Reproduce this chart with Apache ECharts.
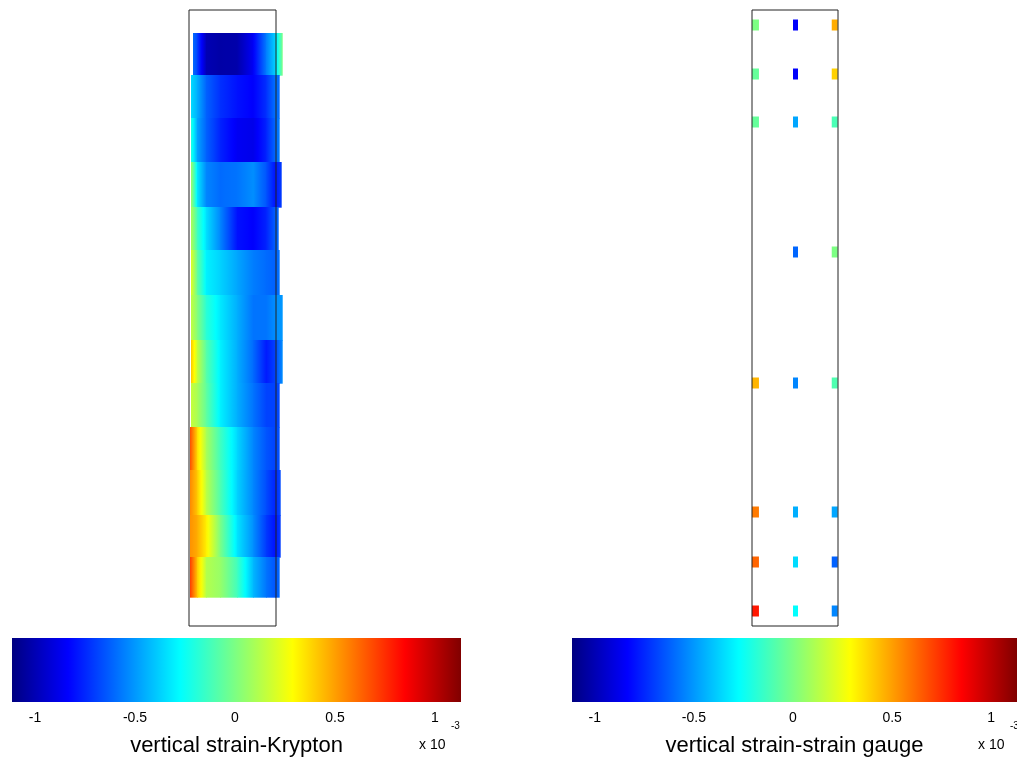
<!DOCTYPE html>
<html>
<head>
<meta charset="utf-8">
<script src="https://cdn.jsdelivr.net/npm/echarts@6/dist/echarts.min.js"></script>
<style>
  html, body { margin: 0; padding: 0; background: #fff; }
  #chart { width: 1017px; height: 762px; }
</style>
</head>
<body>
<div id="chart"></div>
<script>
// colour range of both colour bars (strain x 10^-3)
var strainMin = -1.115;
var strainMax = 1.13;
var barTicks = [-1, -0.5, 0, 0.5, 1];

// Krypton field, 13 horizontal bands (frame units: x 0..87, y 0..616 from top)
var bandTop = [23, 65, 108, 152, 197, 240, 285, 330, 373, 417, 460, 505, 547];
var bandBottom = [65, 108, 152, 197, 240, 285, 330, 373, 417, 460, 505, 547, 587];
var bandLeft = [4, 2, 2, 2, 2, 2, 2, 2, 2, 1, 1, 1, 1];
var bandRight = [93, 90, 90, 92, 89, 90, 93, 93, 90, 90, 91, 91, 90];
var innerNodes = [8, 17, 31, 48, 64, 77, 86];
// strain at bandLeft, innerNodes..., bandRight
var kryptonStrain = [
  [-0.60, -0.69, -1.00, -1.03, -1.02, -0.85, -0.56, -0.37, 0.00],
  [-0.35, -0.45, -0.62, -0.73, -0.80, -0.84, -0.73, -0.58, -0.60],
  [-0.20, -0.47, -0.62, -0.76, -0.86, -0.88, -0.76, -0.60, -0.56],
  [0.07, -0.32, -0.54, -0.60, -0.58, -0.52, -0.65, -0.80, -0.70],
  [0.11, -0.13, -0.34, -0.54, -0.80, -0.84, -0.76, -0.62, -0.60],
  [0.22, -0.05, -0.30, -0.37, -0.47, -0.56, -0.60, -0.62, -0.58],
  [0.15, 0.02, -0.18, -0.32, -0.45, -0.58, -0.58, -0.52, -0.50],
  [0.41, 0.16, -0.08, -0.30, -0.45, -0.60, -0.78, -0.69, -0.52],
  [0.16, 0.10, -0.06, -0.30, -0.45, -0.58, -0.69, -0.69, -0.67],
  [0.68, 0.37, 0.10, -0.13, -0.36, -0.54, -0.65, -0.69, -0.65],
  [0.55, 0.41, 0.14, -0.10, -0.37, -0.54, -0.67, -0.76, -0.67],
  [0.53, 0.47, 0.32, 0.00, -0.33, -0.52, -0.71, -0.80, -0.70],
  [0.72, 0.41, 0.12, 0.06, -0.13, -0.43, -0.58, -0.65, -0.60]
];

// strain gauges (frame units: x 0..1, y 0..616 from top)
var gaugeDepth = [15, 64, 112, 242, 373, 502, 552, 601];
var gaugeCols = [0.04, 0.506, 0.962];
var gaugeWidth = [7, 5, 6];
var gaugeLeft = [0.00, -0.05, -0.05, null, 0.45, 0.58, 0.63, 0.80];
var gaugeMid = [-0.84, -0.84, -0.47, -0.61, -0.54, -0.45, -0.35, -0.27];
var gaugeRight = [0.47, 0.39, -0.11, 0.00, -0.10, -0.47, -0.62, -0.54];

var font = 'Liberation Sans, Arial, Helvetica, sans-serif';

function clamp01(a) {
  return Math.max(0, Math.min(1, a));
}

// matlab jet colormap
function jet(v) {
  var f = clamp01((v - strainMin) / (strainMax - strainMin));
  var r = clamp01(Math.min(4 * f - 1.5, -4 * f + 4.5));
  var g = clamp01(Math.min(4 * f - 0.5, -4 * f + 3.5));
  var b = clamp01(Math.min(4 * f + 0.5, -4 * f + 2.5));
  return 'rgb(' + Math.round(r * 255) + ',' + Math.round(g * 255) + ',' + Math.round(b * 255) + ')';
}

var bandCells = [];
kryptonStrain.forEach(function (row, i) {
  var xs = [bandLeft[i]].concat(innerNodes, [bandRight[i]]);
  for (var j = 0; j < xs.length - 1; j++) {
    bandCells.push([xs[j], xs[j + 1], bandTop[i], bandBottom[i], row[j], row[j + 1]]);
  }
});

function gaugeData(vals, col) {
  var out = [];
  vals.forEach(function (v, i) {
    if (v !== null) out.push([gaugeCols[col], gaugeDepth[i], v]);
  });
  return out;
}

function renderBand(params, api) {
  var p0 = api.coord([api.value(0), api.value(2)]);
  var p1 = api.coord([api.value(1), api.value(3)]);
  var v0 = api.value(4), v1 = api.value(5);
  var stops = [];
  for (var k = 0; k <= 6; k++) {
    stops.push({ offset: k / 6, color: jet(v0 + (v1 - v0) * k / 6) });
  }
  return {
    type: 'rect',
    shape: { x: p0[0], y: p0[1], width: p1[0] - p0[0] + 0.7, height: p1[1] - p0[1] + 0.7 },
    style: { fill: new echarts.graphic.LinearGradient(0, 0, 1, 0, stops) }
  };
}

function renderBar(params, api) {
  var p0 = api.coord([api.value(0), 1]);
  var p1 = api.coord([api.value(1), 0]);
  var stops = [0, 1 / 8, 3 / 8, 5 / 8, 7 / 8, 1].map(function (f) {
    return { offset: f, color: jet(strainMin + f * (strainMax - strainMin)) };
  });
  return {
    type: 'rect',
    shape: { x: p0[0], y: p0[1], width: p1[0] - p0[0], height: p1[1] - p0[1] },
    style: { fill: new echarts.graphic.LinearGradient(0, 0, 1, 0, stops) }
  };
}

function barAxis(idx, name) {
  return {
    type: 'value', gridIndex: idx, min: strainMin, max: strainMax,
    axisLine: { show: false }, axisTick: { show: false }, splitLine: { show: false },
    axisLabel: { customValues: barTicks, fontSize: 14, color: '#000', fontFamily: font, margin: 9 },
    name: name, nameLocation: 'middle', nameGap: 33,
    nameTextStyle: { fontSize: 22, color: '#000', fontFamily: font }
  };
}

var chart = echarts.init(document.getElementById('chart'));

chart.setOption({
  animation: false,
  backgroundColor: '#fff',
  grid: [
    { left: 189, top: 10, width: 87, height: 616, show: true, borderColor: '#222', borderWidth: 1, backgroundColor: 'transparent', z: 5 },
    { left: 752, top: 10, width: 86, height: 616, show: true, borderColor: '#222', borderWidth: 1, backgroundColor: 'transparent', z: 5 },
    { left: 12, top: 638, width: 449, height: 64 },
    { left: 572, top: 638, width: 449, height: 64 }
  ],
  xAxis: [
    { type: 'value', gridIndex: 0, min: 0, max: 87, show: false },
    { type: 'value', gridIndex: 1, min: 0, max: 1, show: false },
    barAxis(2, 'vertical strain-Krypton'),
    barAxis(3, 'vertical strain-strain gauge')
  ],
  yAxis: [
    { type: 'value', gridIndex: 0, min: 0, max: 616, inverse: true, show: false },
    { type: 'value', gridIndex: 1, min: 0, max: 616, inverse: true, show: false },
    { type: 'value', gridIndex: 2, min: 0, max: 1, show: false },
    { type: 'value', gridIndex: 3, min: 0, max: 1, show: false }
  ],
  graphic: [
    { type: 'text', left: 419, top: 738, style: { text: 'x 10', fontSize: 14, fill: '#000', fontFamily: font } },
    { type: 'text', left: 451, top: 721, style: { text: '-3', fontSize: 10, fill: '#000', fontFamily: font } },
    { type: 'text', left: 978, top: 738, style: { text: 'x 10', fontSize: 14, fill: '#000', fontFamily: font } },
    { type: 'text', left: 1010, top: 721, style: { text: '-3', fontSize: 10, fill: '#000', fontFamily: font } }
  ],
  series: [
    {
      type: 'custom', xAxisIndex: 0, yAxisIndex: 0, z: 1,
      renderItem: renderBand, encode: { x: [0, 1], y: [2, 3] },
      data: bandCells
    },
    {
      type: 'custom', xAxisIndex: 2, yAxisIndex: 2,
      renderItem: renderBar, encode: { x: [0, 1] },
      data: [[strainMin, strainMax]]
    },
    {
      type: 'custom', xAxisIndex: 3, yAxisIndex: 3,
      renderItem: renderBar, encode: { x: [0, 1] },
      data: [[strainMin, strainMax]]
    }
  ].concat([gaugeLeft, gaugeMid, gaugeRight].map(function (vals, col) {
    return {
      type: 'scatter', xAxisIndex: 1, yAxisIndex: 1, z: 1,
      symbol: 'rect', symbolSize: [gaugeWidth[col], 11],
      itemStyle: { color: function (p) { return jet(p.value[2]); }, opacity: 1 },
      data: gaugeData(vals, col)
    };
  }))
});
</script>
</body>
</html>
